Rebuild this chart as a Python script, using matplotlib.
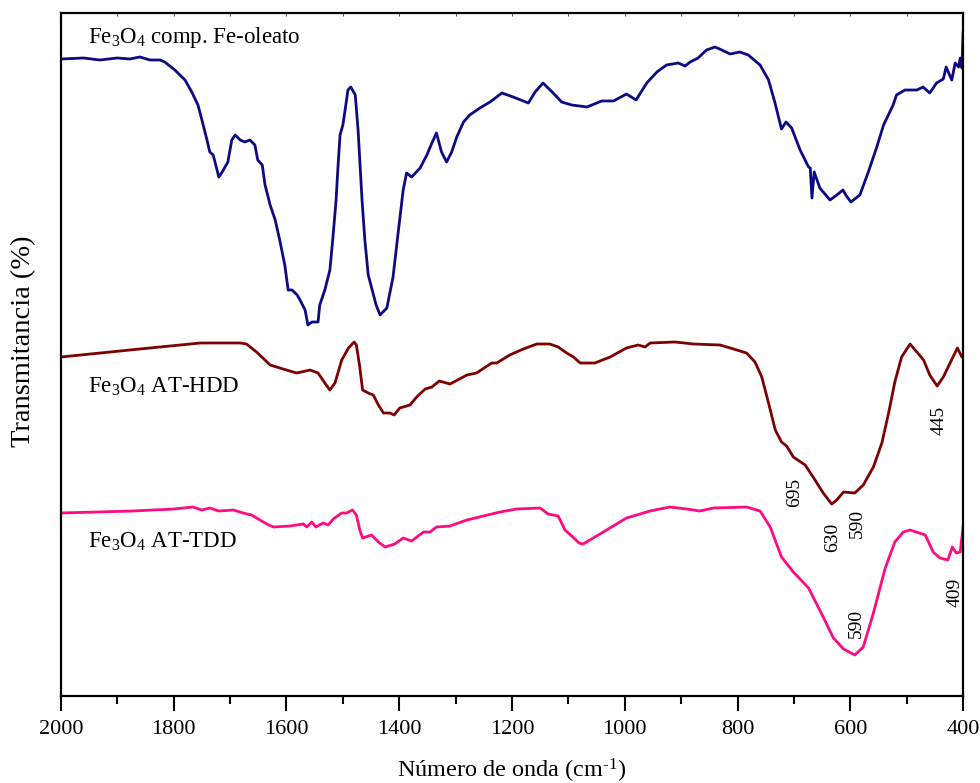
import matplotlib
matplotlib.use('Agg')
import matplotlib.pyplot as plt
from matplotlib.ticker import MultipleLocator, NullLocator
import numpy as np

plt.rcParams['font.family'] = ['Liberation Serif', 'DejaVu Serif']
plt.rcParams['mathtext.fontset'] = 'custom'
plt.rcParams['mathtext.rm'] = 'Liberation Serif'
plt.rcParams['mathtext.it'] = 'Liberation Serif:italic'

# Fe3O4 comp. Fe-oleato  (numero de onda, transmitancia en u.a.)
wn_oleato = [2000, 1960, 1931, 1900, 1878, 1860, 1842, 1824, 1816, 1798, 1780, 1768, 1757, 1750,
             1741, 1736, 1730, 1720, 1714, 1704, 1697, 1691, 1682, 1674, 1665, 1656, 1651,
             1643, 1638, 1629, 1620, 1612, 1603, 1597, 1590, 1581, 1576, 1567, 1562, 1555,
             1544, 1541, 1532, 1523, 1518, 1512, 1509, 1505, 1500, 1496, 1491, 1486, 1478,
             1473, 1466, 1461, 1455, 1448, 1441, 1434, 1422, 1411, 1402, 1393, 1387, 1378,
             1363, 1351, 1342, 1334, 1325, 1316, 1307, 1298, 1286, 1275, 1257, 1239, 1218,
             1198, 1171, 1159, 1145, 1127, 1112, 1094, 1067, 1041, 1020, 997, 980, 961, 943,
             926, 905, 893, 884, 870, 855, 840, 828, 813, 796, 781, 760, 745, 734, 722, 714,
             704, 689, 674, 671, 668, 664, 654, 636, 624, 613, 608, 599, 583, 568, 553, 541,
             524, 518, 503, 482, 471, 459, 447, 435, 430, 420, 414, 408, 405, 402, 400]
t_oleato = [637, 638, 636, 638, 637, 639, 636, 636, 634, 626, 616, 604, 591, 576,
            556, 544, 541, 519, 524, 534, 556, 561, 556, 554, 556, 551, 536,
            531, 511, 491, 476, 456, 431, 406, 406, 401, 396, 386, 371, 374,
            374, 391, 406, 426, 456, 496, 526, 561, 571, 586, 606, 609, 601,
            566, 496, 456, 421, 406, 391, 381, 388, 419, 463, 506, 523, 519,
            528, 541, 553, 563, 544, 534, 544, 559, 574, 581, 588, 594, 603,
            599, 593, 604, 613, 603, 594, 591, 589, 595, 595, 602, 596, 613, 624,
            631, 633, 630, 634, 638, 646, 649, 646, 642, 644, 641, 631, 616, 594, 567, 574,
            568, 546, 529, 528, 498, 524, 508, 496, 501, 506, 501, 494, 501, 524, 549, 571,
            591, 601, 606, 606, 609, 603, 613, 617, 629, 616, 633, 629, 638, 628, 663]

# Fe3O4 AT-HDD
wn_hdd = [2000, 1878, 1753, 1736, 1682, 1671, 1653, 1629, 1606, 1582, 1558, 1544, 1532,
          1523, 1514, 1502, 1490, 1480, 1476, 1470, 1465, 1455, 1446, 1437, 1428, 1416,
          1409, 1399, 1381, 1369, 1354, 1342, 1329, 1310, 1280, 1263, 1236, 1227, 1204,
          1180, 1156, 1133, 1118, 1103, 1091, 1079, 1053, 1026, 997, 976, 964, 955, 911,
          878, 831, 807, 784, 769, 757, 745, 733, 722, 713, 701, 680, 666, 648, 633, 624,
          612, 592, 577, 559, 544, 532, 521, 509, 494, 482, 470, 459, 446, 435, 423, 410,
          402, 400]
t_hdd = [339, 346, 353, 353, 353, 352, 344, 331, 327, 323, 326, 323, 313,
         306, 313, 336, 348, 354, 351, 329, 306, 303, 301, 291, 283, 283,
         281, 288, 291, 299, 307, 309, 315, 312, 321, 323, 333, 333, 341,
         347, 352, 352, 349, 343, 339, 333, 333, 339, 348, 351, 349, 353, 354,
         352, 351, 347, 343, 334, 319, 293, 266, 254, 250, 239, 231, 219, 203, 192, 196,
         204, 203, 211, 229, 253, 283, 314, 339, 352, 344, 336, 321, 310, 319, 333, 348,
         339, 339]

# Fe3O4 AT-TDD
wn_tdd = [2000, 1872, 1800, 1766, 1750, 1736, 1720, 1694, 1677, 1662, 1647, 1635, 1623,
          1594, 1570, 1564, 1555, 1548, 1535, 1526, 1517, 1502, 1493, 1483, 1476, 1470,
          1465, 1449, 1437, 1425, 1408, 1393, 1378, 1357, 1345, 1334, 1310, 1280, 1251,
          1221, 1192, 1150, 1136, 1118, 1106, 1094, 1081, 1074, 1038, 997, 955, 920, 890,
          867, 843, 784, 760, 742, 722, 701, 674, 648, 630, 612, 592, 577, 559, 538, 521,
          506, 494, 467, 453, 441, 427, 419, 412, 405, 400]
t_tdd = [183, 185, 187, 189, 186, 188, 185, 186, 183, 181, 176, 172, 169,
         170, 172, 169, 174, 169, 173, 171, 177, 183, 183, 186, 181, 166,
         158, 161, 154, 149, 152, 158, 155, 164, 164, 169, 170, 176, 180,
         184, 187, 188, 182, 180, 166, 160, 153, 152, 164, 178, 185, 189, 187,
         185, 188, 189, 185, 169, 139, 124, 108, 79, 58, 47, 41, 49, 83, 128, 154,
         164, 166, 161, 144, 138, 136, 149, 143, 144, 169]

# etiquetas de picos: (texto, numero de onda, transmitancia)
peak_labels = ['695', '630', '590', '445', '590', '409']
peak_wn = [698, 631, 588, 443, 590, 414]
peak_t = [204, 159, 173, 276, 73, 104]

fig = plt.figure(figsize=(9.8, 7.83), dpi=100)
ax = fig.add_axes([0.0622, 0.1111, 0.9205, 0.8723])

ax.plot(wn_oleato, t_oleato, color='#0B0B85', lw=2.0)
ax.plot(wn_hdd, t_hdd, color='#7F0000', lw=2.0)
ax.plot(wn_tdd, t_tdd, color='#FF0A80', lw=2.0)

ax.set_xlim(2000, 400)
ax.set_ylim(0, 683)

ax.text(1952, 653, r'Fe$_3$O$_4$ comp. Fe-oleato', fontsize=16.5, va='baseline')
ax.text(1952, 303, r'Fe$_3$O$_4$ AT-HDD', fontsize=16.5, va='baseline')
ax.text(1952, 148, r'Fe$_3$O$_4$ AT-TDD', fontsize=16.5, va='baseline')

for lab, w, t in zip(peak_labels, peak_wn, peak_t):
    ax.text(w, t, lab, rotation=90, fontsize=14, ha='center', va='center')

ax.xaxis.set_major_locator(MultipleLocator(200))
ax.xaxis.set_minor_locator(MultipleLocator(100))
ax.yaxis.set_major_locator(NullLocator())
ax.tick_params(axis='x', which='major', direction='out', length=11, width=1.5,
               labelsize=16, pad=6)
ax.tick_params(axis='x', which='minor', direction='out', length=6, width=1.5)
# ticks superiores cortos hacia adentro
secx = ax.secondary_xaxis('top')
secx.xaxis.set_major_locator(MultipleLocator(200))
secx.xaxis.set_minor_locator(MultipleLocator(100))
secx.tick_params(which='both', direction='in', length=2.5, width=0.8, labeltop=False,
                 color='#555555')
secx.spines['top'].set_visible(False)

for s in ax.spines.values():
    s.set_linewidth(1.6)

ax.set_xlabel('Número de onda (cm$^{\u2010\\mathregular{1}}$)', fontsize=17.5, labelpad=13)
ax.set_ylabel('Transmitancia (%)', fontsize=20.5)
ax.yaxis.set_label_coords(-0.027, 0.52)

fig.savefig('out.png', dpi=100)
